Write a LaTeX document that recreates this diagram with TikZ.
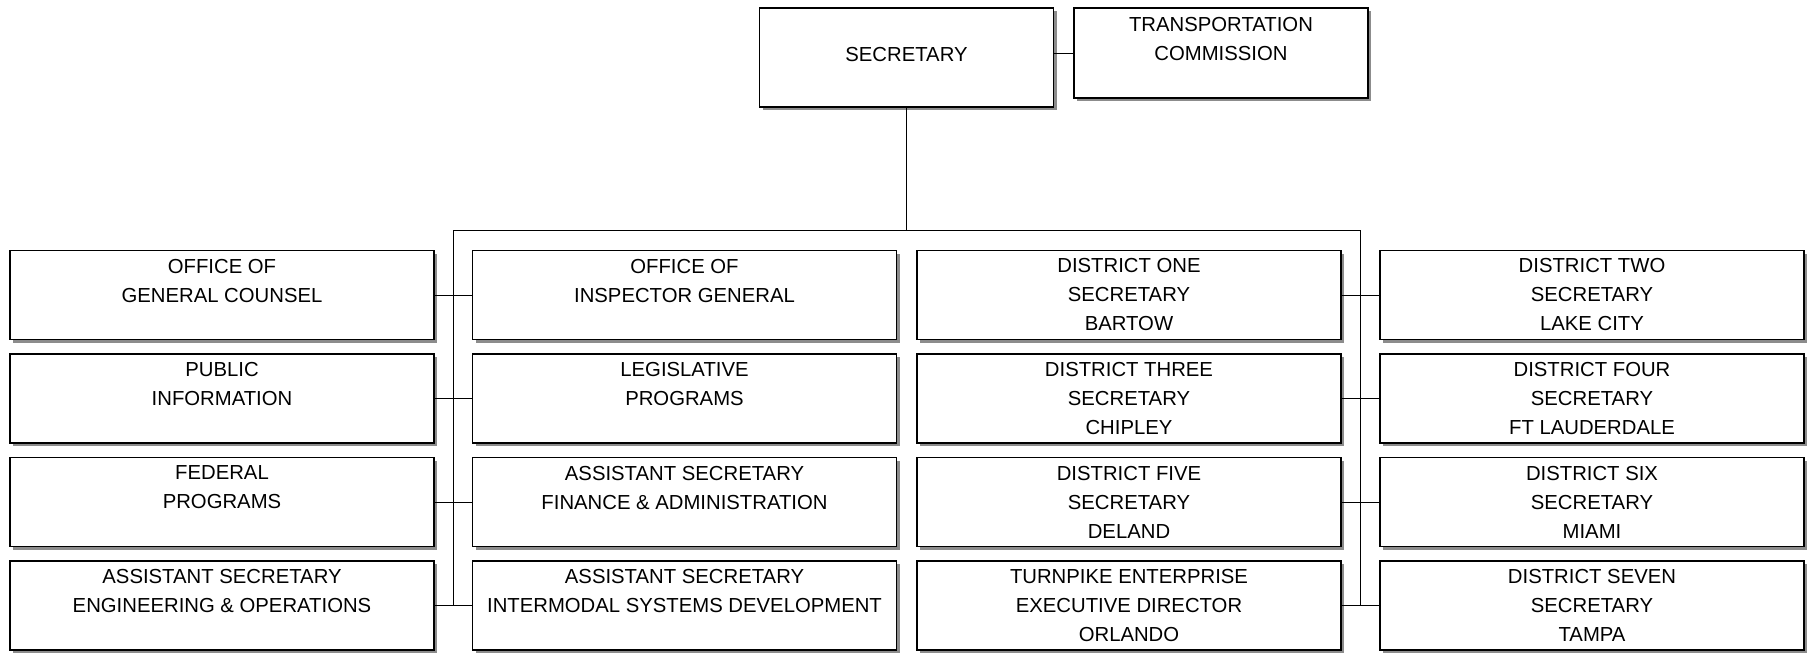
\documentclass[tikz,border=0pt]{standalone}
\usepackage{fontspec}
\setmainfont{Liberation Sans}
\usetikzlibrary{shadows}

\tikzset{every picture/.style={line width=1pt},
  orgbox/.style={draw,line width=1.1pt,fill=white,inner sep=0pt,align=center,
    minimum width=424pt,minimum height=89pt,font=\fontsize{20.3}{29}\selectfont,
    drop shadow={shadow xshift=3pt,shadow yshift=-3pt,fill=black!45,opacity=1}},
  link/.style={line width=1pt}}

\begin{document}
\begin{tikzpicture}[x=1pt,y=1pt,yscale=-1,xscale=1]
\useasboundingbox (0,0) rectangle (1813,653);

% Top boxes
\node [orgbox,minimum width=294pt,minimum height=99pt] (sec) at (906.5,57.5) {\raisebox{6.5pt}{SECRETARY}};
\node [orgbox,minimum width=294pt,minimum height=90pt] (trcomm) at (1221,53) {TRANSPORTATION\\COMMISSION\\\mbox{}};

% Column 1
\node [orgbox] (gencounsel) at (222,295) {OFFICE OF\\GENERAL COUNSEL\\\mbox{}};
\node [orgbox] (pubinfo) at (222,398.5) {PUBLIC\\INFORMATION\\\mbox{}};
\node [orgbox] (fedprog) at (222,502) {FEDERAL\\PROGRAMS\\\mbox{}};
\node [orgbox] (aseng) at (222,605.5) {ASSISTANT SECRETARY\\ENGINEERING \& OPERATIONS\\\mbox{}};

% Column 2
\node [orgbox] (inspgen) at (684.5,295) {OFFICE OF\\INSPECTOR GENERAL\\\mbox{}};
\node [orgbox] (legis) at (684.5,398.5) {LEGISLATIVE\\PROGRAMS\\\mbox{}};
\node [orgbox] (asfin) at (684.5,502) {ASSISTANT SECRETARY\\FINANCE \& ADMINISTRATION\\\mbox{}};
\node [orgbox] (asisd) at (684.5,605.5) {ASSISTANT SECRETARY\\INTERMODAL SYSTEMS DEVELOPMENT\\\mbox{}};

% Column 3
\node [orgbox] (dist1) at (1129,295) {DISTRICT ONE\\SECRETARY\\BARTOW};
\node [orgbox] (dist3) at (1129,398.5) {DISTRICT THREE\\SECRETARY\\CHIPLEY};
\node [orgbox] (dist5) at (1129,502) {DISTRICT FIVE\\SECRETARY\\DELAND};
\node [orgbox] (turnpike) at (1129,605.5) {TURNPIKE ENTERPRISE\\EXECUTIVE DIRECTOR\\ORLANDO};

% Column 4
\node [orgbox] (dist2) at (1592,295) {DISTRICT TWO\\SECRETARY\\LAKE CITY};
\node [orgbox] (dist4) at (1592,398.5) {DISTRICT FOUR\\SECRETARY\\FT LAUDERDALE};
\node [orgbox] (dist6) at (1592,502) {DISTRICT SIX\\SECRETARY\\MIAMI};
\node [orgbox] (dist7) at (1592,605.5) {DISTRICT SEVEN\\SECRETARY\\TAMPA};

% Bus lines
\coordinate (busL) at (453.5,230);
\coordinate (busR) at (1360.5,230);
\draw [link] (trcomm.west) -- (trcomm.west -| sec.east);
\draw [link] (sec.south) -- (sec.south |- busL);
\draw [link] (busL) -- (busR);
\draw [link] (busL) -- (busL |- aseng.east);
\draw [link] (busR) -- (busR |- turnpike.east);

% Row connectors
\draw [link] (gencounsel.east) -- (inspgen.west);
\draw [link] (pubinfo.east) -- (legis.west);
\draw [link] (fedprog.east) -- (asfin.west);
\draw [link] (aseng.east) -- (asisd.west);
\draw [link] (dist1.east) -- (dist2.west);
\draw [link] (dist3.east) -- (dist4.west);
\draw [link] (dist5.east) -- (dist6.west);
\draw [link] (turnpike.east) -- (dist7.west);

\end{tikzpicture}
\end{document}
